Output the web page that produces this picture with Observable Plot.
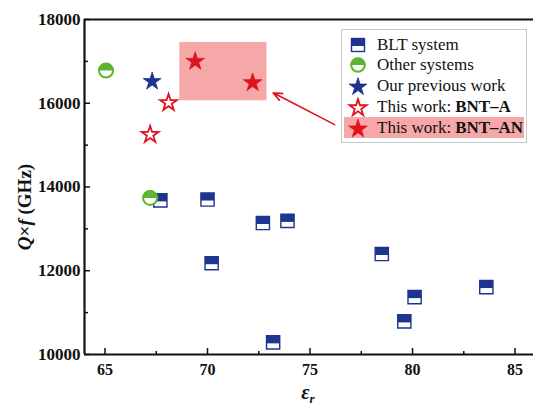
<!DOCTYPE html>
<html><head><meta charset="utf-8">
<script src="https://cdn.jsdelivr.net/npm/d3@7"></script>
<script src="https://cdn.jsdelivr.net/npm/@observablehq/plot@0.6"></script>
<style>
body{margin:0;background:#fff;}
#wrap{position:relative;width:533px;height:411px;overflow:hidden;font-family:"Liberation Serif","Times New Roman",serif;}
#wrap svg text{font-family:"Liberation Serif","Times New Roman",serif;}
#legend{position:absolute;left:341px;top:29px;width:186px;height:114px;border:1px solid #c8c8c8;background:#fff;box-sizing:border-box;}
.row{position:absolute;left:2px;right:2px;height:21px;display:flex;align-items:center;font-size:17px;color:#111;}
.row svg{width:22px;height:20px;margin-left:3px;margin-right:8px;flex:none;}
.row b{margin-left:4px;}
</style></head><body><div id="wrap"></div>
<script>
// ---- data ----
const bltEps = [67.7, 70.0, 70.2, 72.7, 73.9, 73.2, 78.5, 80.1, 79.6, 83.6];
const bltQf  = [13680, 13700, 12180, 13140, 13190, 10290, 12400, 11370, 10790, 11610];
const otherEps = [65.05, 67.2];
const otherQf  = [16780, 13740];
const prevEps = [67.3];
const prevQf  = [16520];
const bntAEps = [68.1, 67.2];
const bntAQf  = [16010, 15250];
const bntANEps = [69.4, 72.2];
const bntANQf  = [17000, 16490];
const boxEps = [68.65, 72.9];
const boxQf  = [16060, 17450];
const arrowEps = [76.2, 73.2];
const arrowQf  = [15490, 16250];
const xDomain = [64, 85.9];
const yDomain = [10000, 18000];
const xTicks = [65, 70, 75, 80, 85];
const xMinor = [67.5, 72.5, 77.5, 82.5];
const yTicks = [10000, 12000, 14000, 16000, 18000];
const yMinor = [11000, 13000, 15000, 17000];
const legendLabels = ["BLT system", "Other systems", "Our previous work", "This work:", "This work:"];
const legendBold = ["", "", "", "BNT\u2013A", "BNT\u2013AN"];

const BLUE = "#1d3590", GREEN = "#5db52f", RED = "#e0121c", PINK = "#f6a7a8";

const rad = s => Math.sqrt(s / Math.PI);
const sqFull = {draw(c, s){const r = rad(s); c.moveTo(-r,-r); c.lineTo(r,-r); c.lineTo(r,r); c.lineTo(-r,r); c.closePath();}};
const sqTop = {draw(c, s){const r = rad(s); c.moveTo(-r,-r); c.lineTo(r,-r); c.lineTo(r,r*0.15); c.lineTo(-r,r*0.15); c.closePath();}};
const circTop = {draw(c, s){const r = rad(s); c.moveTo(r,0); c.arc(0,0,r,0,Math.PI,true); c.closePath();}};

const zip = (a, b) => a.map((x, i) => ({x, y: b[i]}));
const blt = zip(bltEps, bltQf), other = zip(otherEps, otherQf), prev = zip(prevEps, prevQf),
      bntA = zip(bntAEps, bntAQf), bntAN = zip(bntANEps, bntANQf);

const plotH = 411 - 19 - 57, plotW = 533 - 84;

const chart = Plot.plot({
  width: 533, height: 411,
  marginLeft: 84, marginRight: 0, marginTop: 19, marginBottom: 57,
  style: {fontFamily: "Liberation Serif, Times New Roman, serif", fontSize: "16px", fontWeight: "bold", color: "#111", background: "transparent"},
  x: {domain: xDomain},
  y: {domain: yDomain},
  marks: [
    Plot.rect([{x1: boxEps[0], x2: boxEps[1], y1: boxQf[0], y2: boxQf[1]}], {x1: "x1", x2: "x2", y1: "y1", y2: "y2", fill: PINK}),
    Plot.arrow([{x1: arrowEps[0], y1: arrowQf[0], x2: arrowEps[1], y2: arrowQf[1]}], {x1: "x1", y1: "y1", x2: "x2", y2: "y2", stroke: RED, strokeWidth: 1.6, headLength: 9, headAngle: 45}),
    Plot.axisX({ticks: xTicks, tickSize: 0, tickPadding: 9, fontSize: 16, fontWeight: "bold", label: null}),
    Plot.axisY({ticks: yTicks, tickSize: 0, tickPadding: 4, fontSize: 17, fontWeight: "bold", label: null, tickFormat: d => String(d)}),
    Plot.tickX(xTicks, {x: d => d, insetTop: plotH - 6, stroke: "#111", strokeWidth: 1.5}),
    Plot.tickX(xMinor, {x: d => d, insetTop: plotH - 3, stroke: "#111", strokeWidth: 1.5}),
    Plot.tickY(yTicks, {y: d => d, insetRight: plotW - 6, stroke: "#111", strokeWidth: 1.5}),
    Plot.tickY(yMinor, {y: d => d, insetRight: plotW - 4, stroke: "#111", strokeWidth: 1.5}),
    Plot.ruleX([xDomain[0]], {stroke: "#111", strokeWidth: 2.2}),
    Plot.ruleY(yDomain, {stroke: "#111", strokeWidth: 2.2}),
    // BLT squares
    Plot.dot(blt, {x: "x", y: "y", symbol: sqFull, r: 6.6, fill: "#fff", stroke: BLUE, strokeWidth: 1.4}),
    Plot.dot(blt, {x: "x", y: "y", symbol: sqTop, r: 6.6, fill: BLUE, stroke: "none"}),
    // other systems
    Plot.dot(other, {x: "x", y: "y", symbol: "circle", r: 7, fill: "#fff", stroke: GREEN, strokeWidth: 2}),
    Plot.dot(other, {x: "x", y: "y", symbol: circTop, r: 7.6, fill: GREEN, stroke: "none"}),
    // stars
    Plot.dot(prev, {x: "x", y: "y", symbol: "star", r: 5.6, fill: BLUE, stroke: BLUE, strokeWidth: 0.8}),
    Plot.dot(bntA, {x: "x", y: "y", symbol: "star", r: 5.3, fill: "#fff", stroke: RED, strokeWidth: 1.8}),
    Plot.dot(bntAN, {x: "x", y: "y", symbol: "star", r: 5.8, fill: RED, stroke: RED, strokeWidth: 0.8})
  ]
});

const wrap = document.getElementById("wrap");
wrap.appendChild(chart);

// axis titles
const svg = d3.select(chart);
const yl = svg.append("text")
  .attr("transform", "translate(31,207) rotate(-90)")
  .attr("text-anchor", "middle")
  .attr("font-size", 19).attr("font-weight", "bold").attr("fill", "#111");
yl.append("tspan").attr("font-style", "italic").text("Q");
yl.append("tspan").text("\u00d7");
yl.append("tspan").attr("font-style", "italic").text("f");
yl.append("tspan").text(" (GHz)");
const xl = svg.append("text")
  .attr("x", 308).attr("y", 399)
  .attr("font-size", 20).attr("font-style", "italic").attr("font-weight", "bold").attr("fill", "#111");
xl.append("tspan").text("\u03b5");
xl.append("tspan").attr("font-size", 13).attr("dy", 4).text("r");

// legend
const leg = document.createElement("div");
leg.id = "legend";
wrap.appendChild(leg);
const starPath = (r) => d3.symbol(d3.symbolStar, r * r * Math.PI)();
const glyphs = [
  `<rect x="4.5" y="3.5" width="13" height="13" fill="#fff" stroke="${BLUE}" stroke-width="1.4"/><rect x="4" y="3" width="14" height="8" fill="${BLUE}"/>`,
  `<circle cx="11" cy="10" r="6.8" fill="#fff" stroke="${GREEN}" stroke-width="2"/><path d="M3.4,10 A7.6,7.6 0 0 1 18.6,10 Z" fill="${GREEN}"/>`,
  `<path transform="translate(11,11)" d="${starPath(5.6)}" fill="${BLUE}" stroke="${BLUE}" stroke-width="0.8"/>`,
  `<path transform="translate(11,11)" d="${starPath(5.3)}" fill="#fff" stroke="${RED}" stroke-width="1.8"/>`,
  `<path transform="translate(11,11)" d="${starPath(5.8)}" fill="${RED}" stroke="${RED}" stroke-width="0.8"/>`
];
const tops = [4, 24, 45, 66, 87];
legendLabels.forEach((t, i) => {
  const row = document.createElement("div");
  row.className = "row";
  row.style.top = tops[i] + "px";
  if (i === 4) row.style.background = PINK;
  row.innerHTML = `<svg viewBox="0 0 22 20">${glyphs[i]}</svg><span>${t}</span>` + (legendBold[i] ? `<b>${legendBold[i]}</b>` : "");
  leg.appendChild(row);
});
</script></body></html>
